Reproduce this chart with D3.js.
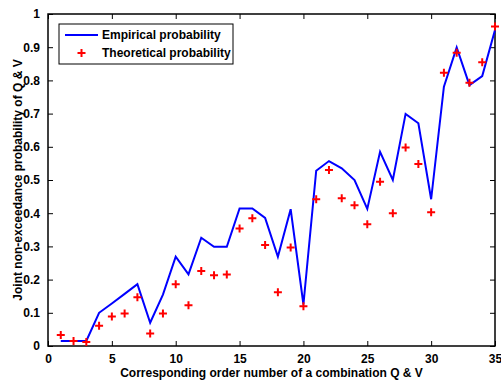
<!DOCTYPE html>
<html>
<head>
<meta charset="utf-8">
<script src="https://cdn.jsdelivr.net/npm/d3@7"></script>
<style>
  body { margin: 0; background: #fff; }
  text { font-family: "Liberation Sans", Arial, sans-serif; font-weight: bold; }
</style>
</head>
<body>
<div id="chart"></div>
<script>
// order numbers 1..35
const orderNumbers = d3.range(1, 36);
const empirical = [0.015, 0.015, 0.015, 0.100, 0.128, 0.157, 0.186, 0.070, 0.155, 0.269,
                   0.216, 0.326, 0.299, 0.299, 0.414, 0.414, 0.386, 0.269, 0.412, 0.125,
                   0.528, 0.557, 0.535, 0.500, 0.413, 0.585, 0.500, 0.699, 0.671, 0.442,
                   0.781, 0.899, 0.786, 0.813, 0.952];
const theoretical = [0.033, 0.015, 0.012, 0.061, 0.089, 0.098, 0.147, 0.038, 0.098, 0.186,
                     0.123, 0.226, 0.213, 0.215, 0.354, 0.385, 0.304, 0.162, 0.297, 0.120,
                     0.442, 0.530, 0.445, 0.424, 0.367, 0.495, 0.400, 0.598, 0.548, 0.403,
                     0.823, 0.883, 0.793, 0.855, 0.962];
const xTicks = [0, 5, 10, 15, 20, 25, 30, 35];
const yTicks = [0, 0.1, 0.2, 0.3, 0.4, 0.5, 0.6, 0.7, 0.8, 0.9, 1];

const W = 501, H = 382;
const margin = {top: 14, right: 6, bottom: 36, left: 48};
const width = W - margin.left - margin.right;
const height = H - margin.top - margin.bottom;

const svg = d3.select("#chart").append("svg")
    .attr("width", W)
    .attr("height", H);

const g = svg.append("g")
    .attr("transform", `translate(${margin.left},${margin.top})`);

const x = d3.scaleLinear().domain([0, 35]).range([0, width]);
const y = d3.scaleLinear().domain([0, 1]).range([height, 0]);

// axes, ticks pointing inward (MATLAB style)
const tickFmt = d => d === 0 ? "0" : (d === 1 ? "1" : d3.format(".1f")(d));

g.append("g")
    .attr("transform", `translate(0,${height})`)
    .call(d3.axisBottom(x).tickValues(xTicks).tickSizeInner(-5).tickSizeOuter(0).tickPadding(8))
    .call(a => a.select(".domain").remove());
g.append("g")
    .call(d3.axisTop(x).tickValues(xTicks).tickSizeInner(-5).tickSizeOuter(0).tickFormat(""))
    .call(a => a.select(".domain").remove());
g.append("g")
    .call(d3.axisLeft(y).tickValues(yTicks).tickSizeInner(-5).tickSizeOuter(0).tickPadding(8).tickFormat(tickFmt))
    .call(a => a.select(".domain").remove());
g.append("g")
    .attr("transform", `translate(${width},0)`)
    .call(d3.axisRight(y).tickValues(yTicks).tickSizeInner(-5).tickSizeOuter(0).tickFormat(""))
    .call(a => a.select(".domain").remove());

g.selectAll(".tick text").attr("font-size", 12).attr("fill", "#000")
    .style("font-family", "'Liberation Sans', Arial, sans-serif").style("font-weight", "bold");
g.selectAll(".tick line").attr("stroke", "#000");

// box
g.append("rect")
    .attr("width", width).attr("height", height)
    .attr("fill", "none").attr("stroke", "#000").attr("stroke-width", 1.5);

// empirical line
const line = d3.line()
    .x((d, i) => x(orderNumbers[i]))
    .y(d => y(d));

g.append("path")
    .datum(empirical)
    .attr("fill", "none")
    .attr("stroke", "#0000ff")
    .attr("stroke-width", 2)
    .attr("d", line);

// theoretical crosses
const cross = d3.symbol().type(d3.symbolCross);
g.selectAll(".pt")
    .data(theoretical)
    .enter().append("path")
    .attr("class", "pt")
    .attr("transform", (d, i) => `translate(${x(orderNumbers[i])},${y(d)})`)
    .attr("d", "M-4,0H4M0,-4V4")
    .attr("stroke", "#ff0000")
    .attr("stroke-width", 2)
    .attr("fill", "none");

// legend
const lg = g.append("g").attr("transform", "translate(11,10)");
lg.append("rect")
    .attr("width", 174).attr("height", 40)
    .attr("fill", "#fff").attr("stroke", "#000").attr("stroke-width", 1);
lg.append("line")
    .attr("x1", 6).attr("x2", 39).attr("y1", 11).attr("y2", 11)
    .attr("stroke", "#0000ff").attr("stroke-width", 2);
lg.append("text").attr("x", 43).attr("y", 15).attr("font-size", 12).text("Empirical probability");
lg.append("path")
    .attr("transform", "translate(22.5,29)")
    .attr("d", "M-4,0H4M0,-4V4")
    .attr("stroke", "#ff0000").attr("stroke-width", 2);
lg.append("text").attr("x", 43).attr("y", 33).attr("font-size", 12).text("Theoretical probability");

// axis titles
svg.append("text")
    .attr("x", margin.left + width / 2)
    .attr("y", 377)
    .attr("text-anchor", "middle")
    .attr("font-size", 12)
    .text("Corresponding order number of a combination Q & V");

svg.append("text")
    .attr("transform", `translate(22,${margin.top + height / 2}) rotate(-90)`)
    .attr("text-anchor", "middle")
    .attr("font-size", 12)
    .text("Joint non-exceedance probability of Q & V");
</script>
</body>
</html>
